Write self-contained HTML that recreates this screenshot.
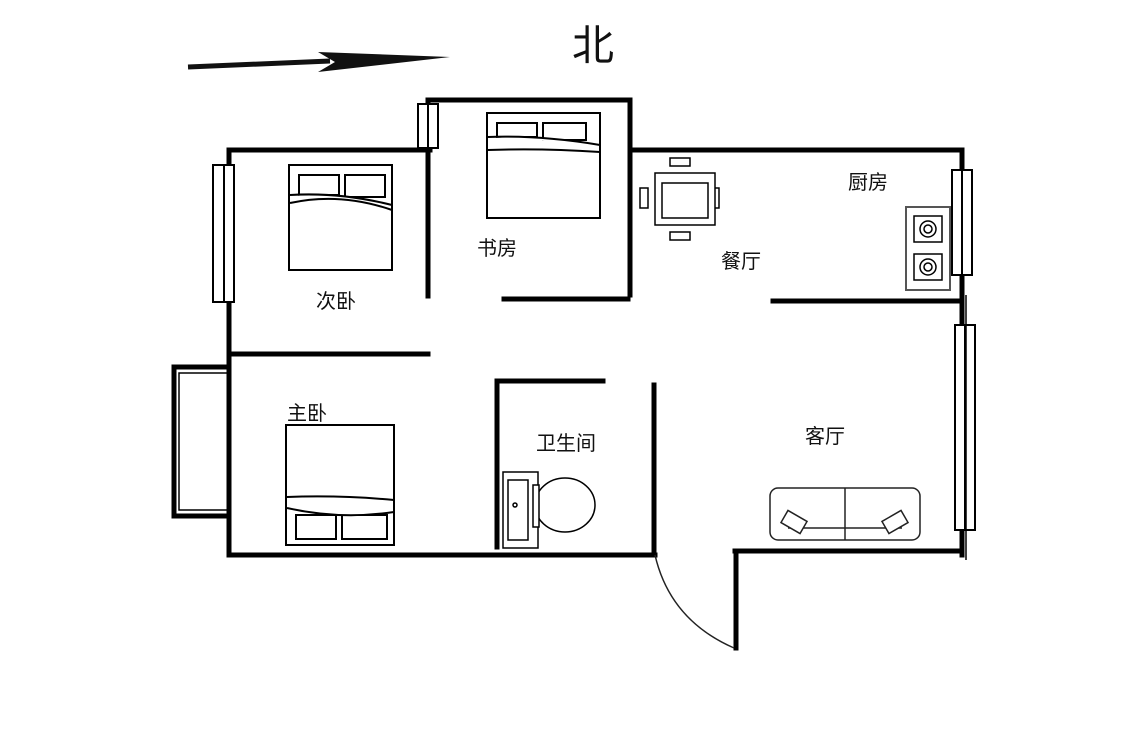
<!DOCTYPE html>
<html><head><meta charset="utf-8"><style>
html,body{margin:0;padding:0;background:#fff;width:1125px;height:734px;overflow:hidden}
svg text{font-family:"Liberation Sans","Noto Sans CJK SC",sans-serif;fill:#111}
</style></head><body>
<svg width="1125" height="734" viewBox="0 0 1125 734" xmlns="http://www.w3.org/2000/svg">
<rect width="1125" height="734" fill="#fff"/>
<!-- arrow -->
<path d="M188 67 L330 61" stroke="#111" stroke-width="5"/>
<polygon points="318,52 450,57 318,72 335,62" fill="#111"/>
<text x="572" y="60" font-size="42">北</text>
<g stroke="#000" stroke-width="5" fill="none" stroke-linecap="square">
<path d="M229 150 L430 150"/>
<path d="M430 100 L630 100 L630 295"/>
<path d="M630 150 L962 150 L962 555"/>
<path d="M229 150 L229 555 L655 555"/>
<path d="M428 100 L428 296"/>
<path d="M504 299 L628 299"/>
<path d="M229 354 L428 354"/>
<path d="M497 381 L603 381"/>
<path d="M497 381 L497 547"/>
<path d="M654 385 L654 553"/>
<path d="M773 301 L962 301"/>
<path d="M735 551 L962 551"/>
<path d="M736 551 L736 648"/>
</g>
<path d="M655 555 Q670 620 734 648" stroke="#222" stroke-width="1.5" fill="none"/>
<!-- windows -->
<g stroke="#000" stroke-width="2" fill="#fff">
<rect x="213" y="165" width="21" height="137"/><line x1="224" y1="165" x2="224" y2="302"/>
<rect x="418" y="104" width="20" height="44"/><line x1="428" y1="104" x2="428" y2="148"/>
<rect x="952" y="170" width="20" height="105"/><line x1="962" y1="170" x2="962" y2="275"/>
<rect x="955" y="325" width="20" height="205"/><line x1="965" y1="325" x2="965" y2="530"/>
</g>
<line x1="966" y1="295" x2="966" y2="560" stroke="#000" stroke-width="1.5"/>
<!-- balcony -->
<rect x="174" y="367" width="55" height="149" fill="none" stroke="#000" stroke-width="5"/>
<rect x="179" y="373" width="50" height="137" fill="none" stroke="#000" stroke-width="1.5"/>
<!-- beds -->
<g stroke="#000" stroke-width="2" fill="#fff">
<rect x="289" y="165" width="103" height="105"/>
<rect x="299" y="175" width="40" height="20"/><rect x="345" y="175" width="40" height="22"/>
<path d="M290 195 Q340 192 392 205" /><path d="M290 203 Q340 192 392 210"/>
<rect x="487" y="113" width="113" height="105"/>
<rect x="497" y="123" width="40" height="14"/><rect x="543" y="123" width="43" height="17"/>
<path d="M488 137 Q540 135 600 145"/><path d="M488 150 Q540 148 600 152"/>
<rect x="286" y="425" width="108" height="120"/>
<rect x="296" y="515" width="40" height="24"/><rect x="342" y="515" width="45" height="24"/>
<path d="M287 497 Q340 495 394 500"/><path d="M287 508 Q340 520 394 512"/>
</g>
<!-- table -->
<g stroke="#000" stroke-width="1.5" fill="#fff">
<rect x="670" y="158" width="20" height="8"/><rect x="670" y="232" width="20" height="8"/>
<rect x="640" y="188" width="8" height="20"/><rect x="711" y="188" width="8" height="20"/>
<rect x="655" y="173" width="60" height="52"/><rect x="662" y="183" width="46" height="35"/>
</g>
<!-- stove -->
<rect x="906" y="207" width="44" height="83" fill="#fff" stroke="#555" stroke-width="2"/>
<g stroke="#000" stroke-width="1.5" fill="none">
<rect x="914" y="216" width="28" height="26"/><circle cx="928" cy="229" r="8"/><circle cx="928" cy="229" r="4"/>
<rect x="914" y="254" width="28" height="26"/><circle cx="928" cy="267" r="8"/><circle cx="928" cy="267" r="4"/>
</g>
<!-- toilet -->
<g stroke="#000" stroke-width="1.5" fill="#fff">
<rect x="503" y="472" width="35" height="76"/>
<rect x="508" y="480" width="20" height="60"/>
<ellipse cx="565" cy="505" rx="30" ry="27"/>
<rect x="533" y="485" width="6" height="42"/>
<circle cx="515" cy="505" r="2"/>
</g>
<!-- sofa -->
<g stroke="#222" stroke-width="1.5" fill="#fff">
<rect x="770" y="488" width="150" height="52" rx="8"/>
<line x1="845" y1="488" x2="845" y2="540"/>
<line x1="788" y1="528" x2="902" y2="528"/>
<rect x="783" y="515" width="22" height="14" transform="rotate(30 794 522)"/>
<rect x="884" y="515" width="22" height="14" transform="rotate(-30 895 522)"/>
</g>
<g font-size="20">
<text x="316" y="308">次卧</text>
<text x="477" y="255">书房</text>
<text x="721" y="268">餐厅</text>
<text x="848" y="189">厨房</text>
<text x="287" y="420">主卧</text>
<text x="536" y="450">卫生间</text>
<text x="805" y="443">客厅</text>
</g>
</svg>
</body></html>
